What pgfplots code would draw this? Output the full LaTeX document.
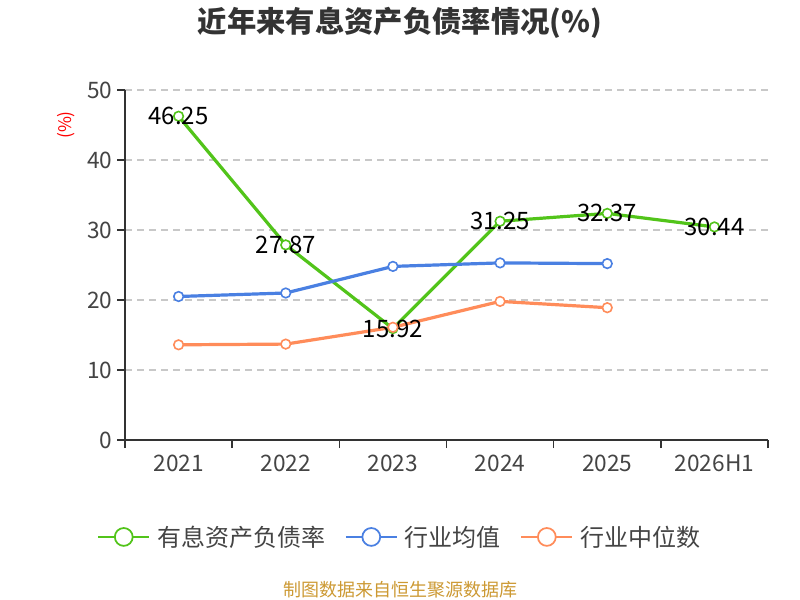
\documentclass[border=0pt]{standalone}
\usepackage{fontspec}
\setmainfont{Noto Sans CJK SC}
\usepackage{pgfplots}
\pgfplotsset{compat=1.18}
\definecolor{cgreen}{RGB}{82,196,26}
\definecolor{cblue}{RGB}{74,128,226}
\definecolor{corange}{RGB}{255,140,90}
\definecolor{axgray}{RGB}{51,51,51}
\definecolor{txtgray}{RGB}{68,68,68}
\definecolor{gridgray}{RGB}{200,200,200}
\definecolor{footc}{RGB}{204,153,51}
\begin{document}
\begin{tikzpicture}[x=0.75pt,y=0.75pt]
\path[use as bounding box] (0,0) rectangle (800,600);
\node[font=\bfseries\fontsize{22}{24}\selectfont, text=axgray] at (400,577) {近年来有息资产负债率情况(\%)};
\node[font=\fontsize{13.5}{15}\selectfont, text=footc] at (400,10) {制图数据来自恒生聚源数据库};
\begin{axis}[
  at={(93.75pt,120pt)}, anchor=south west,
  width=482.25pt, height=262.5pt, scale only axis,
  xmin=-0.5, xmax=5.5, ymin=0, ymax=50,
  xtick={0,1,2,3,4,5},
  xticklabels={2021,2022,2023,2024,2025,2026H1},
  minor xtick={-0.5,0.5,1.5,2.5,3.5,4.5,5.5},
  ytick={0,10,20,30,40,50},
  axis x line*=bottom, axis y line*=left,
  axis line style={axgray, line width=1.2pt, -},
  x axis line style={-}, y axis line style={-},
  major x tick style={draw=none},
  minor x tick style={axgray, line width=1.2pt},
  minor tick length=6pt,
  y tick style={axgray, line width=1.2pt},
  major tick length=6pt,
  tick align=outside,
  ymajorgrids, grid style={gridgray, dashed, line width=0.8pt, dash pattern=on 5pt off 4pt},
  tick label style={font=\fontsize{17}{19}\selectfont, text=txtgray},
  /pgf/number format/assume math mode=true,
  xticklabel style={yshift=-2pt},
  ylabel={(\%)},
  ylabel style={font=\fontsize{13}{15}\selectfont, text=red, at={(axis description cs:-0.092,0.9)}, anchor=center},
  legend style={at={(axis description cs:0.428,-0.277)}, anchor=center, draw=none, font=\fontsize{18}{20}\selectfont, text=txtgray, legend columns=3,
    /tikz/every even column/.append style={column sep=13pt}},
  legend cell align=left,
  legend image code/.code={
    \draw[line width=1.3pt] (0pt,0pt) -- (38pt,0pt);
    \draw[line width=1.3pt, fill=white] (19pt,0pt) circle (6.7pt);
    \path[draw=none, fill=none] (0pt,0pt) -- (42pt,0pt);
  },
  clip=false,
]
\addplot[cgreen, line width=2.4pt, mark=*, mark size=3.6pt, mark options={fill=white, line width=1.2pt},
  nodes near coords, point meta=explicit symbolic,
  nodes near coords style={anchor=center, text=black, font=\fontsize{18}{20}\selectfont}]
  coordinates {(0,46.25)[46.25] (1,27.87)[27.87] (2,15.92)[15.92] (3,31.25)[31.25] (4,32.37)[32.37] (5,30.44)[30.44]};
\addlegendentry{有息资产负债率}
\addplot[cblue, line width=2.4pt, mark=*, mark size=3.6pt, mark options={fill=white, line width=1.2pt}]
  coordinates {(0,20.5) (1,21.0) (2,24.8) (3,25.3) (4,25.2)};
\addlegendentry{行业均值}
\addplot[corange, line width=2.4pt, mark=*, mark size=3.6pt, mark options={fill=white, line width=1.2pt}]
  coordinates {(0,13.6) (1,13.7) (2,16.1) (3,19.8) (4,18.9)};
\addlegendentry{行业中位数}
\end{axis}
\end{tikzpicture}
\end{document}
